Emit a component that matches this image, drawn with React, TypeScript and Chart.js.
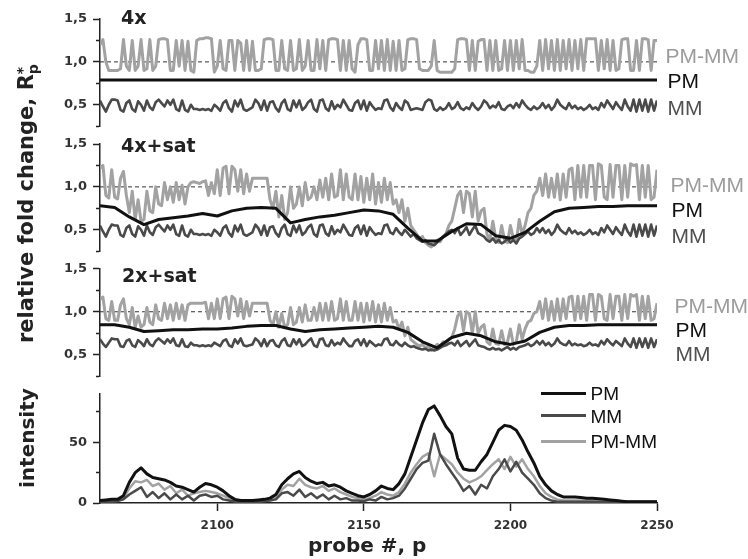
import React, { useEffect, useRef } from 'react';
import { Chart, registerables } from 'chart.js';

Chart.register(...registerables);

// ---------- data ----------
const PROBE_START = 2060;
const PROBE_END = 2250;
const STEP_RATIO = 1; // probes between points of the jagged ratio series
const STEP_INT = 2; // probes between points of the intensity series
const STEP_SMOOTH = 5; // probes between points of the smooth PM series

const R_TICKS = [0.25, 0.5, 0.75, 1.0, 1.25, 1.5];
const R_TICK_LABELS = ['', '0,5', '', '1,0', '', '1,5'];
const INT_TICKS = [0, 25, 50, 75];
const INT_TICK_LABELS = ['0', '', '50', ''];
const X_TICKS = [2100, 2150, 2200, 2250];
const X_TICK_LABELS = ['2100', '2150', '2200', '2250'];
const REF_LEVEL = 1.0;

// panel "4x"
const PM_4X = [0.79, 0.79];
const MM_4X = [
  0.55, 0.48, 0.42, 0.5, 0.56, 0.56, 0.55, 0.44, 0.42, 0.52,
  0.55, 0.45, 0.42, 0.54, 0.5, 0.43, 0.55, 0.47, 0.44, 0.53,
  0.56, 0.52, 0.48, 0.55, 0.5, 0.56, 0.45, 0.43, 0.55, 0.44,
  0.42, 0.5, 0.45, 0.45, 0.44, 0.45, 0.44, 0.45, 0.43, 0.5,
  0.47, 0.43, 0.52, 0.55, 0.46, 0.42, 0.55, 0.48, 0.56, 0.45,
  0.43, 0.45, 0.47, 0.56, 0.52, 0.44, 0.55, 0.43, 0.53, 0.54,
  0.46, 0.42, 0.52, 0.56, 0.45, 0.43, 0.55, 0.47, 0.55, 0.44,
  0.47, 0.53, 0.56, 0.45, 0.42, 0.55, 0.56, 0.46, 0.43, 0.54,
  0.45, 0.5, 0.47, 0.56, 0.5, 0.44, 0.43, 0.52, 0.55, 0.45,
  0.55, 0.43, 0.53, 0.48, 0.44, 0.46, 0.45, 0.55, 0.56, 0.47,
  0.43, 0.52, 0.47, 0.44, 0.55, 0.52, 0.44, 0.45, 0.46, 0.45,
  0.44, 0.53, 0.56, 0.55, 0.45, 0.43, 0.47, 0.44, 0.46, 0.52,
  0.45, 0.47, 0.53, 0.46, 0.44, 0.47, 0.45, 0.52, 0.47, 0.44,
  0.48, 0.55, 0.52, 0.46, 0.49, 0.47, 0.53, 0.45, 0.44, 0.48,
  0.5, 0.46, 0.52, 0.47, 0.55, 0.5, 0.46, 0.44, 0.48, 0.45,
  0.47, 0.52, 0.46, 0.5, 0.44, 0.48, 0.56, 0.5, 0.47, 0.45,
  0.52, 0.46, 0.49, 0.45, 0.47, 0.44, 0.46, 0.5, 0.45, 0.47,
  0.44, 0.52, 0.47, 0.55, 0.5, 0.45, 0.53, 0.48, 0.44, 0.56,
  0.48, 0.43, 0.56, 0.42, 0.56, 0.43, 0.56, 0.42, 0.56, 0.43,
  0.55,
];
const PMMM_4X = [
  1.2, 1.26, 1.0, 0.9, 0.9, 0.9, 0.9, 0.92, 1.26, 0.95,
  0.9, 1.25, 0.9, 0.95, 1.26, 0.9, 0.92, 1.26, 0.9, 0.95,
  1.26, 1.27, 1.27, 1.26, 0.9, 0.9, 1.25, 0.95, 1.25, 0.9,
  1.24, 0.9, 0.88, 1.25, 1.27, 1.27, 1.28, 1.28, 1.27, 0.88,
  0.95, 1.25, 0.92, 0.9, 1.25, 1.25, 0.9, 1.25, 1.22, 0.9,
  1.25, 0.9, 1.24, 0.9, 0.9, 0.92, 1.26, 1.27, 1.27, 1.26,
  0.9, 0.9, 1.25, 0.92, 0.9, 1.25, 0.9, 0.92, 1.26, 0.9,
  0.95, 1.25, 0.9, 0.9, 1.26, 0.92, 1.25, 0.9, 1.26, 1.27,
  1.27, 1.26, 0.9, 1.25, 0.9, 1.25, 0.92, 0.88, 1.2, 1.27,
  1.27, 1.26, 0.9, 0.9, 1.25, 0.92, 1.25, 0.9, 1.26, 0.9,
  1.24, 0.9, 1.25, 0.9, 0.92, 1.26, 1.27, 1.27, 1.26, 0.92,
  0.9, 0.9, 0.9, 0.95, 1.25, 0.9, 0.88, 0.88, 0.88, 0.88,
  0.88, 0.92, 1.26, 1.27, 1.27, 1.26, 0.9, 1.25, 0.9, 1.24,
  1.26, 1.26, 0.9, 1.25, 0.9, 1.25, 0.9, 0.92, 1.25, 0.9,
  1.25, 0.9, 1.25, 0.92, 1.26, 0.9, 0.9, 0.88, 0.88, 0.95,
  1.25, 0.9, 1.26, 0.92, 1.25, 0.9, 1.26, 0.9, 1.25, 0.92,
  1.26, 0.9, 1.25, 0.92, 1.26, 0.9, 1.27, 1.27, 1.27, 1.27,
  0.9, 1.25, 0.92, 1.26, 0.9, 1.25, 0.9, 0.92, 1.26, 1.27,
  1.27, 0.9, 0.9, 1.25, 0.9, 1.27, 1.27, 1.26, 0.9, 1.25,
  1.25,
];

// panel "4x+sat"
const PM_4XSAT = [
  0.78, 0.76, 0.65, 0.56, 0.62, 0.64, 0.66, 0.69, 0.66, 0.72, 0.75, 0.76, 0.75, 0.58, 0.62,
  0.65, 0.67, 0.7, 0.73, 0.72, 0.68, 0.52, 0.37, 0.37, 0.48, 0.57, 0.56, 0.43, 0.4, 0.47,
  0.6, 0.71, 0.75, 0.76, 0.77, 0.77, 0.78, 0.78, 0.78,
];
const MM_4XSAT = [
  0.55, 0.48, 0.42, 0.5, 0.56, 0.55, 0.55, 0.44, 0.42, 0.52,
  0.55, 0.45, 0.42, 0.54, 0.5, 0.43, 0.55, 0.47, 0.44, 0.53,
  0.56, 0.52, 0.48, 0.55, 0.5, 0.56, 0.45, 0.43, 0.55, 0.44,
  0.42, 0.5, 0.45, 0.45, 0.44, 0.45, 0.44, 0.45, 0.43, 0.5,
  0.47, 0.43, 0.52, 0.55, 0.46, 0.42, 0.55, 0.48, 0.56, 0.45,
  0.43, 0.45, 0.47, 0.56, 0.52, 0.44, 0.55, 0.43, 0.53, 0.54,
  0.46, 0.42, 0.52, 0.56, 0.45, 0.43, 0.55, 0.47, 0.55, 0.44,
  0.47, 0.53, 0.56, 0.45, 0.42, 0.55, 0.56, 0.46, 0.43, 0.54,
  0.45, 0.5, 0.47, 0.56, 0.5, 0.44, 0.43, 0.52, 0.55, 0.45,
  0.55, 0.43, 0.53, 0.48, 0.44, 0.46, 0.45, 0.55, 0.56, 0.47,
  0.45, 0.52, 0.47, 0.44, 0.5, 0.46, 0.42, 0.45, 0.4, 0.38,
  0.36, 0.38, 0.34, 0.33, 0.32, 0.35, 0.38, 0.42, 0.45, 0.48,
  0.5, 0.46, 0.52, 0.44, 0.48, 0.53, 0.44, 0.5, 0.55, 0.46,
  0.44, 0.42, 0.38, 0.36, 0.4, 0.35, 0.38, 0.34, 0.36, 0.4,
  0.35, 0.38, 0.34, 0.4, 0.42, 0.45, 0.48, 0.44, 0.46, 0.52,
  0.47, 0.52, 0.46, 0.5, 0.44, 0.48, 0.56, 0.5, 0.47, 0.45,
  0.52, 0.46, 0.49, 0.45, 0.47, 0.44, 0.46, 0.5, 0.45, 0.47,
  0.44, 0.52, 0.47, 0.55, 0.5, 0.45, 0.53, 0.48, 0.44, 0.56,
  0.48, 0.43, 0.56, 0.42, 0.56, 0.43, 0.56, 0.42, 0.56, 0.43,
  0.55,
];
const PMMM_4XSAT = [
  1.22, 1.25, 0.9, 0.87, 1.2, 0.88, 0.86, 1.1, 1.18, 0.9,
  0.7, 0.95, 0.62, 0.85, 0.6, 0.62, 0.95, 0.72, 0.7, 1.0,
  0.8, 0.78, 1.05, 0.85, 1.0, 0.82, 1.05, 0.85, 1.02, 0.8,
  1.0, 1.05, 1.06, 1.05, 1.04, 1.06, 1.07, 0.9, 1.05, 0.92,
  1.2, 0.9, 1.22, 1.24, 0.92, 1.24, 1.2, 0.95, 1.2, 0.92,
  1.15, 0.95, 1.1, 1.1, 1.1, 1.1, 1.1, 1.1, 0.85, 0.75,
  0.95, 0.65, 0.9, 0.62, 0.7, 1.0, 0.75, 0.8, 1.0, 0.78,
  1.05, 0.85, 0.88, 1.0, 0.85, 1.08, 0.88, 1.1, 0.85, 1.15,
  0.88, 0.9, 1.2, 0.85, 1.15, 0.88, 0.85, 1.15, 0.85, 1.12,
  0.82, 1.1, 0.85, 1.15, 0.8, 1.05, 0.82, 1.1, 0.85, 1.05,
  0.8, 0.85, 0.7, 0.85, 0.6, 0.75, 0.55, 0.5, 0.45, 0.4,
  0.42, 0.35, 0.32, 0.3, 0.33, 0.38, 0.36, 0.42, 0.45, 0.55,
  0.6, 0.75, 0.9, 0.95, 0.7, 0.95, 0.92, 0.65, 0.95, 0.6,
  0.72, 0.75, 0.45, 0.38, 0.6, 0.4, 0.35, 0.55, 0.38, 0.35,
  0.55, 0.4, 0.35, 0.62, 0.45, 0.55, 0.7, 0.75, 0.9, 0.95,
  1.1, 0.9, 1.15, 0.88, 1.1, 0.88, 1.15, 0.85, 1.15, 0.88,
  1.2, 1.22, 0.85, 1.25, 0.88, 1.25, 0.88, 1.25, 1.25, 0.85,
  1.27, 1.25, 0.88, 0.85, 1.26, 0.88, 1.25, 1.25, 0.85, 1.25,
  0.88, 1.27, 1.25, 1.26, 0.85, 1.25, 0.88, 1.25, 0.85, 0.88,
  1.2,
];

// panel "2x+sat"
const PM_2XSAT = [
  0.85, 0.85, 0.82, 0.77, 0.78, 0.79, 0.79, 0.8, 0.8, 0.81, 0.83, 0.84, 0.84, 0.8, 0.77,
  0.79, 0.8, 0.81, 0.82, 0.83, 0.82, 0.76, 0.65, 0.58, 0.7, 0.75, 0.72, 0.65, 0.62, 0.66,
  0.76, 0.82, 0.84, 0.84, 0.85, 0.85, 0.85, 0.85, 0.85,
];
const MM_2XSAT = [
  0.68, 0.63, 0.59, 0.64, 0.69, 0.68, 0.68, 0.6, 0.59, 0.66,
  0.68, 0.61, 0.59, 0.67, 0.64, 0.6, 0.68, 0.62, 0.6, 0.66,
  0.69, 0.66, 0.63, 0.68, 0.64, 0.69, 0.61, 0.6, 0.68, 0.6,
  0.59, 0.64, 0.61, 0.61, 0.6, 0.61, 0.6, 0.61, 0.6, 0.64,
  0.62, 0.6, 0.66, 0.68, 0.61, 0.59, 0.68, 0.63, 0.69, 0.61,
  0.6, 0.61, 0.62, 0.69, 0.66, 0.6, 0.68, 0.6, 0.66, 0.67,
  0.61, 0.59, 0.66, 0.69, 0.61, 0.6, 0.68, 0.62, 0.68, 0.6,
  0.62, 0.66, 0.69, 0.61, 0.59, 0.68, 0.69, 0.61, 0.6, 0.67,
  0.61, 0.64, 0.62, 0.69, 0.64, 0.6, 0.6, 0.66, 0.68, 0.61,
  0.68, 0.6, 0.66, 0.63, 0.6, 0.62, 0.61, 0.68, 0.69, 0.62,
  0.61, 0.66, 0.62, 0.6, 0.64, 0.61, 0.59, 0.6, 0.58, 0.57,
  0.56, 0.57, 0.55, 0.56, 0.55, 0.56, 0.58, 0.6, 0.61, 0.63,
  0.64, 0.61, 0.66, 0.6, 0.63, 0.66, 0.6, 0.64, 0.68, 0.61,
  0.6, 0.59, 0.57, 0.56, 0.58, 0.56, 0.57, 0.55, 0.57, 0.59,
  0.56, 0.58, 0.56, 0.59, 0.6, 0.61, 0.63, 0.6, 0.62, 0.66,
  0.62, 0.66, 0.61, 0.64, 0.6, 0.63, 0.69, 0.64, 0.62, 0.61,
  0.66, 0.61, 0.63, 0.61, 0.62, 0.6, 0.61, 0.64, 0.61, 0.62,
  0.6, 0.66, 0.62, 0.68, 0.64, 0.61, 0.66, 0.63, 0.6, 0.69,
  0.63, 0.59, 0.69, 0.58, 0.69, 0.59, 0.69, 0.58, 0.69, 0.59,
  0.68,
];
const PMMM_2XSAT = [
  1.15, 1.17, 0.92, 0.9, 1.12, 0.9, 0.9, 1.08, 1.15, 0.92,
  0.85, 1.05, 0.82, 0.95, 0.82, 0.85, 1.05, 0.88, 0.85, 1.08,
  0.92, 0.9, 1.1, 0.92, 1.08, 0.9, 1.1, 0.92, 1.08, 0.9,
  1.08, 1.1, 1.1, 1.1, 1.1, 1.1, 1.11, 0.92, 1.1, 0.92,
  1.15, 0.92, 1.15, 1.17, 0.92, 1.18, 1.15, 0.95, 1.15, 0.92,
  1.12, 0.95, 1.1, 1.1, 1.1, 1.1, 1.1, 1.1, 0.9, 0.85,
  1.0, 0.82, 0.98, 0.82, 0.85, 1.05, 0.85, 0.88, 1.05, 0.88,
  1.08, 0.9, 0.9, 1.05, 0.9, 1.1, 0.9, 1.1, 0.9, 1.12,
  0.9, 0.92, 1.15, 0.9, 1.12, 0.9, 0.9, 1.12, 0.9, 1.1,
  0.88, 1.1, 0.9, 1.12, 0.88, 1.08, 0.88, 1.1, 0.9, 1.05,
  0.88, 0.9, 0.8, 0.88, 0.72, 0.82, 0.68, 0.65, 0.62, 0.6,
  0.62, 0.58, 0.6, 0.55, 0.58, 0.62, 0.6, 0.65, 0.62, 0.68,
  0.7, 0.8, 0.95, 1.0, 0.78, 1.0, 0.98, 0.75, 1.0, 0.75,
  0.82, 0.85, 0.65, 0.62, 0.8, 0.63, 0.62, 0.78, 0.62, 0.65,
  0.8, 0.62, 0.65, 0.85, 0.68, 0.8, 0.88, 0.9, 0.98, 1.0,
  1.12, 0.92, 1.15, 0.9, 1.12, 0.9, 1.15, 0.9, 1.15, 0.92,
  1.17, 1.18, 0.9, 1.18, 0.92, 1.18, 0.9, 1.2, 1.2, 0.9,
  1.2, 1.18, 0.92, 0.9, 1.2, 0.92, 1.18, 1.18, 0.9, 1.2,
  0.92, 1.2, 1.18, 1.2, 0.9, 1.18, 0.92, 1.18, 0.9, 0.92,
  1.1,
];

// intensity panel
const INT_PM = [
  2, 2.5, 3, 3, 6, 17, 25, 29, 24, 21, 20, 19, 17, 14, 13, 11,
  9, 13, 16, 15, 13, 10, 6, 3, 2, 2, 2, 2.5, 3, 4, 7, 15,
  20, 24, 26, 21, 18, 16, 17, 14, 15, 13, 10, 8, 6, 5, 7, 10,
  14, 12, 11, 16, 24, 38, 52, 66, 77, 80, 72, 63, 57, 37, 28, 27,
  27, 34, 40, 50, 60, 64, 63, 60, 52, 42, 33, 22, 15, 10, 7, 5,
  5, 5, 4.5, 4, 4, 3.5, 3, 2.5, 2, 1.5, 1, 1, 1, 1, 1, 1,
];
const INT_MM = [
  1, 1, 1, 1.5, 3, 7, 10, 13, 5, 9, 4, 8, 3, 7, 3, 6,
  2, 6, 7, 5, 6, 3, 2, 1, 1, 1, 1, 1, 1.5, 2, 3, 8,
  9, 6, 11, 5, 8, 4, 7, 3, 6, 3, 4, 2, 2, 1.5, 3, 2,
  5, 3, 4, 6, 12, 20, 28, 33, 35, 57, 40, 32, 25, 18, 10, 14,
  7, 15, 12, 22, 28, 36, 26, 34, 25, 20, 15, 8, 4, 2, 1, 1,
  1, 1, 1, 1, 1, 0.8, 0.8, 0.8, 0.6, 0.6, 0.5, 0.5, 0.5, 0.5, 0.5, 0.5,
];
const INT_PMMM = [
  1, 1.5, 2, 2, 4, 12, 18, 17, 19, 14, 16, 11, 14, 8, 11, 6,
  8, 9, 10, 9, 8, 6, 4, 2, 1.5, 1, 1, 1.5, 2, 3, 5, 11,
  15, 14, 20, 15, 13, 12, 14, 10, 12, 9, 7, 5, 4, 3, 4, 6,
  9, 7, 6, 9, 16, 25, 32, 38, 41, 22, 40, 36, 32, 25, 20, 17,
  19, 22, 27, 32, 36, 28, 38, 30, 36, 28, 22, 14, 8, 5, 3, 2,
  2, 2, 2, 2, 2, 2, 2, 1.8, 1.8, 1.5, 1.5, 1.5, 1.5, 1.5, 1.5, 1.5,
];

// ---------- styling ----------
const C_PM = '#111111';
const C_MM = '#4a4a4a';
const C_PMMM = '#a2a2a2';
const C_AXIS = '#222222';
const C_TICKTXT = '#333333';
const Y_TICK_FONT = { family: "'DejaVu Sans', sans-serif", size: 13, weight: 'bold' as const };
const X_TICK_FONT = { family: "'DejaVu Sans', sans-serif", size: 12, weight: 'bold' as const };
const W = 748;
const AXIS_LEFT = 100;
const PAD_RIGHT = 91;

const series = (vals: number[], step: number) => vals.map((y, i) => ({ x: PROBE_START + i * step, y }));
const flat = (vals: number[]) => vals.map((y, i) => ({ x: i === 0 ? PROBE_START : PROBE_END, y }));

const lineDs = (data: any[], color: string, width: number, dash: number[] = []) => ({
  data,
  borderColor: color,
  borderWidth: width,
  borderDash: dash,
  pointRadius: 0,
  tension: 0,
  fill: false,
  borderJoinStyle: 'round' as const,
});

function yScale(min: number, max: number, ticks: number[], labels: string[]) {
  return {
    type: 'linear' as const,
    min,
    max,
    afterFit: (s: any) => {
      s.width = AXIS_LEFT;
    },
    afterBuildTicks: (s: any) => {
      s.ticks = ticks.map((v) => ({ value: v }));
    },
    ticks: {
      autoSkip: false,
      padding: 6,
      color: C_TICKTXT,
      font: Y_TICK_FONT,
      callback: (_v: any, i: number) => labels[i],
    },
    grid: {
      drawOnChartArea: false,
      drawTicks: true,
      tickLength: 7,
      tickWidth: 1.5,
      tickColor: C_AXIS,
      tickBorderDash: (ctx: any) => (labels[ctx.index] ? [] : [0, 3, 4, 100]),
    },
    border: { display: true, color: C_AXIS, width: 1.5 },
  };
}

function ratioConfig(pm: any[], mm: number[], pmmm: number[], padTop: number, padBottom: number) {
  return {
    type: 'line' as const,
    data: {
      datasets: [
        lineDs(pm, C_PM, 3),
        lineDs(series(mm, STEP_RATIO), C_MM, 2.6),
        lineDs(series(pmmm, STEP_RATIO), C_PMMM, 3),
        lineDs(flat([REF_LEVEL, REF_LEVEL]), '#333333', 1, [4, 3]),
      ],
    },
    options: {
      responsive: false,
      animation: false as const,
      events: [],
      layout: { padding: { left: 0, right: PAD_RIGHT, top: padTop, bottom: padBottom } },
      plugins: { legend: { display: false }, tooltip: { enabled: false } },
      scales: {
        x: { type: 'linear' as const, min: PROBE_START, max: PROBE_END, display: false },
        y: yScale(R_TICKS[0], R_TICKS[R_TICKS.length - 1], R_TICKS, R_TICK_LABELS),
      },
    },
  };
}

function intensityConfig(padTop: number, padBottom: number) {
  return {
    type: 'line' as const,
    data: {
      datasets: [
        lineDs(series(INT_PM, STEP_INT), C_PM, 3),
        lineDs(series(INT_MM, STEP_INT), C_MM, 2.5),
        lineDs(series(INT_PMMM, STEP_INT), C_PMMM, 2.5),
      ],
    },
    options: {
      responsive: false,
      animation: false as const,
      events: [],
      layout: { padding: { left: 0, right: PAD_RIGHT, top: padTop, bottom: padBottom } },
      plugins: { legend: { display: false }, tooltip: { enabled: false } },
      scales: {
        x: {
          type: 'linear' as const,
          min: PROBE_START,
          max: PROBE_END,
          afterFit: (s: any) => {
            s.height = 30;
          },
          afterBuildTicks: (s: any) => {
            s.ticks = X_TICKS.map((v) => ({ value: v }));
          },
          ticks: {
            autoSkip: false,
            maxRotation: 0,
            padding: 8,
            color: C_TICKTXT,
            font: X_TICK_FONT,
            callback: (_v: any, i: number) => X_TICK_LABELS[i],
          },
          grid: { drawOnChartArea: false, drawTicks: true, tickLength: 8, tickWidth: 1.5, tickColor: C_AXIS },
          border: { display: true, color: C_AXIS, width: 1.5 },
        },
        y: yScale(0, 90, INT_TICKS, INT_TICK_LABELS),
      },
    },
  };
}

const PANELS = [
  { top: 0, height: 140, padTop: 19, padBottom: 12.5 },
  { top: 130, height: 135, padTop: 14, padBottom: 13.5 },
  { top: 255, height: 135, padTop: 13, padBottom: 10 },
  { top: 380, height: 179, padTop: 13, padBottom: 26 },
];

// ---------- text helpers ----------
const DJ = "'DejaVu Sans', sans-serif";
const LIB = "'Liberation Sans', Arial, sans-serif";

function Txt(props: {
  x: number;
  baseline: number;
  size: number;
  family?: string;
  weight?: string;
  color?: string;
  children: React.ReactNode;
}) {
  const { x, baseline, size, family = DJ, weight = 'bold', color = '#222', children } = props;
  return (
    <div
      style={{
        position: 'absolute',
        left: x,
        top: baseline - 0.846 * size,
        fontSize: size,
        lineHeight: `${size}px`,
        fontFamily: family,
        fontWeight: weight as any,
        color,
        whiteSpace: 'nowrap',
      }}
    >
      {children}
    </div>
  );
}

function VTxt(props: { baselineX: number; startY: number; size: number; children: React.ReactNode }) {
  const { baselineX, startY, size, children } = props;
  return (
    <div
      style={{
        position: 'absolute',
        left: 0,
        top: 0,
        fontSize: size,
        lineHeight: `${size}px`,
        fontFamily: DJ,
        fontWeight: 'bold',
        color: '#222',
        whiteSpace: 'nowrap',
        transformOrigin: '0 0',
        transform: `translate(${baselineX - 0.846 * size}px, ${startY}px) rotate(-90deg)`,
      }}
    >
      {children}
    </div>
  );
}

export default function App() {
  const refs = [
    useRef<HTMLCanvasElement>(null),
    useRef<HTMLCanvasElement>(null),
    useRef<HTMLCanvasElement>(null),
    useRef<HTMLCanvasElement>(null),
  ];

  useEffect(() => {
    const configs: any[] = [
      ratioConfig(flat(PM_4X), MM_4X, PMMM_4X, PANELS[0].padTop, PANELS[0].padBottom),
      ratioConfig(series(PM_4XSAT, STEP_SMOOTH), MM_4XSAT, PMMM_4XSAT, PANELS[1].padTop, PANELS[1].padBottom),
      ratioConfig(series(PM_2XSAT, STEP_SMOOTH), MM_2XSAT, PMMM_2XSAT, PANELS[2].padTop, PANELS[2].padBottom),
      intensityConfig(PANELS[3].padTop, PANELS[3].padBottom),
    ];
    const charts = refs.map((r, i) => new Chart(r.current as HTMLCanvasElement, configs[i]));
    return () => charts.forEach((c) => c.destroy());
  }, []);

  return (
    <div style={{ position: 'absolute', left: 0, top: 0, width: W, height: 559, background: '#fff', overflow: 'hidden' }}>
      {PANELS.map((p, i) => (
        <canvas
          key={i}
          ref={refs[i]}
          width={W}
          height={p.height}
          style={{ position: 'absolute', left: 0, top: p.top, width: W, height: p.height, display: 'block' }}
        />
      ))}

      {/* panel titles */}
      <Txt x={121} baseline={24} size={19}>4x</Txt>
      <Txt x={121} baseline={152} size={19}>4x+sat</Txt>
      <Txt x={122} baseline={282} size={19}>2x+sat</Txt>

      {/* right-hand series labels */}
      <Txt x={665.5} baseline={63} size={21} family={LIB} weight="normal" color="#9c9c9c">PM-MM</Txt>
      <Txt x={667.5} baseline={88} size={21} family={LIB} weight="normal" color="#111">PM</Txt>
      <Txt x={667.5} baseline={115} size={21} family={LIB} weight="normal" color="#505050">MM</Txt>

      <Txt x={670.5} baseline={191.5} size={21} family={LIB} weight="normal" color="#9c9c9c">PM-MM</Txt>
      <Txt x={671.5} baseline={216.7} size={21} family={LIB} weight="normal" color="#111">PM</Txt>
      <Txt x={671.5} baseline={243} size={21} family={LIB} weight="normal" color="#505050">MM</Txt>

      <Txt x={674.5} baseline={313} size={21} family={LIB} weight="normal" color="#9c9c9c">PM-MM</Txt>
      <Txt x={675.5} baseline={337} size={21} family={LIB} weight="normal" color="#111">PM</Txt>
      <Txt x={675.5} baseline={361} size={21} family={LIB} weight="normal" color="#505050">MM</Txt>

      {/* intensity legend */}
      <div style={{ position: 'absolute', left: 541, top: 391.5, width: 45, height: 3.2, background: C_PM }} />
      <div style={{ position: 'absolute', left: 541, top: 413.5, width: 45, height: 3, background: C_MM }} />
      <div style={{ position: 'absolute', left: 541, top: 439.5, width: 45, height: 3, background: C_PMMM }} />
      <Txt x={590.5} baseline={400} size={19} family={LIB} weight="normal" color="#111">PM</Txt>
      <Txt x={590.5} baseline={423} size={19} family={LIB} weight="normal" color="#111">MM</Txt>
      <Txt x={590.5} baseline={448} size={19} family={LIB} weight="normal" color="#111">PM-MM</Txt>

      {/* axis titles */}
      <VTxt baselineX={33.5} startY={343} size={21}>
        relative fold change, R
        <span
          style={{
            display: 'inline-block',
            verticalAlign: '-5px',
            fontSize: 14,
            lineHeight: '11px',
            textAlign: 'left',
          }}
        >
          <span style={{ display: 'block' }}>*</span>
          <span style={{ display: 'block' }}>p</span>
        </span>
      </VTxt>
      <VTxt baselineX={33.5} startY={488} size={20}>intensity</VTxt>
      <Txt x={308} baseline={551.5} size={20}>probe #, p</Txt>
    </div>
  );
}
